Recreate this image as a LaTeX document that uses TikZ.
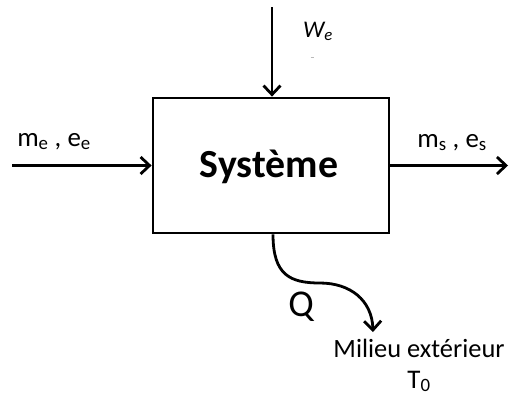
\documentclass[tikz,border=0pt]{standalone}
\usepackage{fontspec}
\setmainfont{Carlito}
\usetikzlibrary{arrows.meta}
\tikzset{
  flow/.style={line width=2.8bp, -{Straight Barb[length=9bp,width=17bp,line width=2.8bp]}},
  sysbox/.style={draw, line width=2.8bp, minimum width=236bp, minimum height=135bp, inner sep=0pt},
  lbl/.style={inner sep=0pt, anchor=base, font=\fontsize{27}{30}\selectfont},
}
\begin{document}
\begin{tikzpicture}[x=1bp, y=-1bp]
  \useasboundingbox (0,0) rectangle (509,396);
  % the system
  \node[sysbox] (sys) at (271,165.5) {};
  \node[lbl, font=\fontsize{40}{44}\selectfont\bfseries] (sysname) at (269,177) {Système};
  % work entering from above
  \coordinate (wtop) at (272,7);
  \draw[flow] (wtop) -- (wtop |- sys.north);
  \node[lbl, font=\fontsize{24}{28}\selectfont\itshape] (we) at (318,37) {W\textsubscript{e}};
  \draw[gray!55, line width=0.8bp] (310.5,57) -- (313.5,57);
  % mass and energy in / out
  \coordinate (inL) at (12,165.5);
  \coordinate (outR) at (508,165.5);
  \draw[flow] (inL) -- (sys.west);
  \draw[flow] (sys.east) -- (outR);
  \node[lbl] (me) at (54,146) {m\textsubscript{e} , e\textsubscript{e}};
  \node[lbl] (ms) at (452,147) {m\textsubscript{s} , e\textsubscript{s}};
  % heat released to the surroundings
  \node[lbl, font=\fontsize{26.5}{30}\selectfont] (milieu) at (419,357) {Milieu extérieur};
  \node[lbl, font=\fontsize{27}{30}\selectfont] (t0) at (419,388) {T\textsubscript{0}};
  \coordinate (qs) at (sys.south -| 273,0);
  \coordinate (qe) at (373,332);
  \draw[flow] (qs) .. controls (273,275) and (290,283) .. (320,283)
              .. controls (350,283) and (372,300) .. (qe);
  \node[lbl, font=\fontsize{38}{42}\selectfont] (q) at (301,316) {Q};
\end{tikzpicture}
\end{document}
